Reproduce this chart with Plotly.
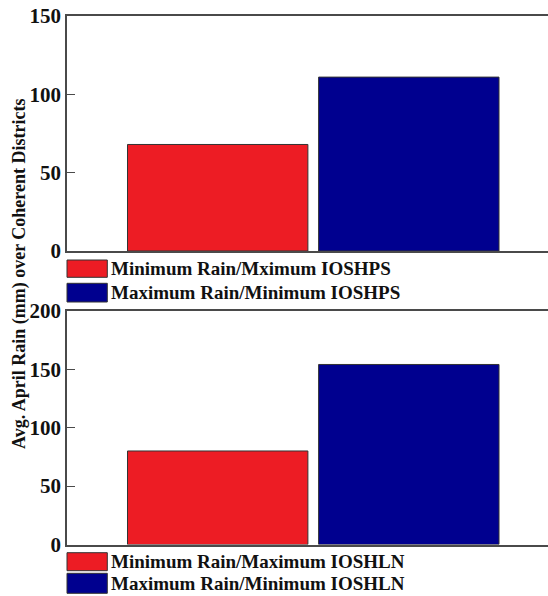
import plotly.graph_objects as go

# ---- data ----
positions = [1, 2]
top_values = [68, 111]
bottom_values = [80, 154]
series_colors = ["#ED1C24", "#00008F"]
top_labels = ["Minimum Rain/Mximum IOSHPS", "Maximum Rain/Minimum IOSHPS"]
bottom_labels = ["Minimum Rain/Maximum IOSHLN", "Maximum Rain/Minimum IOSHLN"]
y_title = "Avg. April Rain (mm) over Coherent Districts"
top_ticks = [0, 50, 100, 150]
bottom_ticks = [0, 50, 100, 150, 200]

W, H = 548, 596
L, R = 67, 0
PW = W - L - R

def px_x(p):
    return (p - L) / PW

def px_y(p):
    return (H - p) / H

FONT = "Liberation Serif"
AX = "#4a4a4a"

fig = go.Figure()
fig.add_trace(go.Bar(x=positions, y=top_values, width=0.944,
                     marker=dict(color=series_colors, line=dict(color="#333333", width=1)),
                     xaxis="x", yaxis="y", showlegend=False, hoverinfo="skip"))
fig.add_trace(go.Bar(x=positions, y=bottom_values, width=0.944,
                     marker=dict(color=series_colors, line=dict(color="#333333", width=1)),
                     xaxis="x2", yaxis="y2", showlegend=False, hoverinfo="skip"))

xcommon = dict(range=[0.2114, 2.7284], showticklabels=False, ticks="", showgrid=False,
               zeroline=False, showline=True, linecolor=AX, linewidth=1.5, mirror=True,
               automargin=False)
ycommon = dict(ticks="inside", ticklen=8, tickwidth=1.2, tickcolor=AX, showgrid=False,
               zeroline=False, showline=True, linecolor=AX, linewidth=1.5, automargin=False,
               tickfont=dict(family=FONT, size=21, color="#111111", weight="bold"))

fig.update_layout(
    width=W, height=H,
    margin=dict(l=L, r=R, t=0, b=0, autoexpand=False),
    plot_bgcolor="white", paper_bgcolor="white",
    xaxis=dict(domain=[0, 1], anchor="y", **xcommon),
    yaxis=dict(domain=[px_y(251), px_y(16)], range=[0, 150], tickvals=top_ticks, **ycommon),
    xaxis2=dict(domain=[0, 1], anchor="y2", **xcommon),
    yaxis2=dict(domain=[px_y(544.5), px_y(310.7)], range=[0, 200], tickvals=bottom_ticks, **ycommon),
)

shapes = []
annotations = []

def add_legend(labels, boxes):
    for lab, col, (y0, y1) in zip(labels, series_colors, boxes):
        shapes.append(dict(type="rect", xref="paper", yref="paper",
                           x0=px_x(67), x1=px_x(107.3), y0=px_y(y1), y1=px_y(y0),
                           fillcolor=col, line=dict(color="#333333", width=1)))
        annotations.append(dict(text=lab, xref="paper", yref="paper",
                                x=px_x(109), y=px_y((y0 + y1) / 2), xanchor="left", yanchor="middle",
                                showarrow=False,
                                font=dict(family=FONT, size=19, color="#111111", weight="bold")))

add_legend(top_labels, [(260, 277.3), (283.3, 302)])
add_legend(bottom_labels, [(552.7, 570.7), (573.3, 593.3)])

annotations.append(dict(text=y_title, xref="paper", yref="paper", x=px_x(19.5), y=px_y(274.5),
                        xanchor="center", yanchor="middle", textangle=-90, showarrow=False,
                        font=dict(family=FONT, size=18, color="#111111", weight="bold")))

fig.update_layout(shapes=shapes, annotations=annotations)
fig.write_html("out.html")
